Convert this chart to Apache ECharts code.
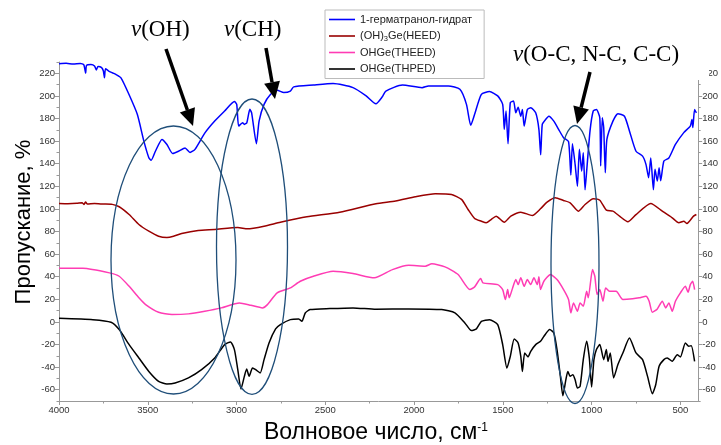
<!DOCTYPE html>
<html>
<head>
<meta charset="utf-8">
<script src="https://cdn.jsdelivr.net/npm/echarts@6/dist/echarts.min.js"></script>
<style>
  html, body { margin: 0; padding: 0; background: #fff; }
  #chart { width: 721px; height: 445px; }
</style>
</head>
<body>
<div id="chart"></div>
<script>
  // tick labels
  const xTicks = [4000, 3500, 3000, 2500, 2000, 1500, 1000, 500];
  const xMinorTicks = [3750, 3250, 2750, 2250, 1750, 1250, 750];
  const yTicks = [-60, -40, -20, 0, 20, 40, 60, 80, 100, 120, 140, 160, 180, 200, 220];
  const yMinorTicks = [-70, -50, -30, -10, 10, 30, 50, 70, 90, 110, 130, 150, 170, 190, 210, 230];

  const seriesNames = ['1-герматранол-гидрат', '(OH)3Ge(HEED)', 'OHGe(THEED)', 'OHGe(THPED)'];

  // [wavenumber, transmittance]
  const germatranolHydrate = [
    [4000,228.5],[3960,228.8],[3920,228.3],[3880,228.6],[3860,227.5],[3850,220],[3845,227],[3820,227.8],
    [3800,226.5],[3790,223],[3780,226],[3760,225],[3750,222],[3744,216],[3738,224],[3720,222],[3700,220.5],
    [3680,219],[3651,216],[3605,201],[3559,183.7],[3522,160],[3494,145.3],[3481,143],[3457,151],[3420,161.5],
    [3392,157],[3360,149],[3327,151],[3290,154],[3262,150],[3234,152.7],[3179,167],[3123,177.7],[3067,186.6],
    [3012,195],[2999,192.5],[2988,173.3],[2966,176.3],[2956,174.8],[2942,176.3],[2925,188.1],[2915,185],
    [2888,157.7],[2873,177.7],[2845,192.5],[2808,201.4],[2771,205],[2734,203],[2697,204.3],[2678,208],
    [2567,209.6],[2456,210.9],[2344,207.3],[2270,200],[2215,193],[2180,199],[2159,204.3],[2066,209.6],
    [1955,207.3],[1919,208.8],[1807,208.8],[1742,205.8],[1705,192.5],[1681,174],[1659,183.7],[1621,201.4],
    [1575,203.8],[1529,200],[1501,192.5],[1492,170.4],[1482,186.6],[1471,157.7],[1458,194],[1440,195.5],
    [1427,185],[1414,190],[1399,182],[1390,188],[1380,173.3],[1362,188],[1343,189.6],[1315,185],[1297,170.4],
    [1287,148],[1278,174.8],[1260,179],[1241,182],[1213,177.7],[1186,170.4],[1158,163],[1130,159.5],[1117,130],
    [1108,157.7],[1093,139.4],[1080,120],[1069,152.7],[1056,133.4],[1047,149.7],[1037,117],[1028,133.4],
    [1009,169],[991,186.6],[973,188],[954,180.7],[949,138],[940,180.7],[932,172],[923,132],[914,161.5],
    [880,177.7],[852,184.3],[815,182],[787,169],[750,151],[713,146.7],[694,139.4],[679,127.6],[667,145],
    [652,117],[643,135],[630,124.6],[620,136.5],[611,125],[593,142.3],[565,145],[528,157],[481,167.5],
    [444,173.3],[435,179.2],[430,172],[420,188],[410,185]
  ];
  const heed = [
    [4000,104.8],[3950,104.6],[3900,104.9],[3870,105.5],[3860,104],[3850,106],[3840,104.3],[3800,104.7],
    [3750,104.3],[3700,104],[3661,101.9],[3605,95],[3550,86.2],[3494,80.3],[3439,75.8],[3392,74.7],[3355,75.8],
    [3309,78.2],[3216,80.9],[3123,81.8],[2993,83.5],[2938,82.4],[2845,84.7],[2753,88.2],[2604,93],[2419,97.1],
    [2215,104.5],[2104,106.9],[1993,110.7],[1881,113.4],[1789,112.8],[1733,108.4],[1696,99.5],[1659,91.5],
    [1621,89.1],[1594,87.7],[1566,90.6],[1538,93.6],[1492,88.2],[1455,93.6],[1399,97.1],[1334,94.2],
    [1288,100.1],[1251,106],[1205,109.9],[1158,107.5],[1121,105.4],[1075,98],[1037,103.9],[991,109],
    [954,107.7],[917,98.9],[880,98],[843,93.6],[796,88.6],[750,95],[667,104.8],[602,98],[546,92.1],
    [509,87.7],[481,89.1],[463,87.1],[426,93.6],[410,95]
  ];
  const theed = [
    [4000,47.5],[3865,47.5],[3716,43.4],[3661,40.4],[3605,31.5],[3550,21.3],[3512,15.3],[3439,8.5],[3364,6.5],
    [3271,7.1],[3179,9.4],[3086,12.4],[2984,16.8],[2919,14.7],[2854,12.4],[2826,15.3],[2771,25.7],[2697,30.1],
    [2641,36],[2567,40.4],[2456,44.8],[2344,42.8],[2224,39],[2122,46.3],[2030,50.1],[1937,49.3],[1900,51.4],
    [1826,48.7],[1752,41.9],[1686,28.6],[1659,31],[1625,38.4],[1612,34.5],[1529,33],[1501,28.6],[1486,19.8],
    [1473,28.6],[1464,21.3],[1445,30.1],[1427,37.5],[1414,33],[1399,39],[1380,31.5],[1362,37.5],[1343,33],
    [1325,39],[1306,33],[1297,39.9],[1288,28.6],[1269,36],[1232,41.9],[1195,37.5],[1158,28.6],[1130,19.8],
    [1117,8],[1102,16.8],[1080,9.4],[1065,16.8],[1047,13.8],[1028,27.1],[1019,21.3],[995,46.3],[982,40.4],
    [969,24.2],[954,28.6],[936,18.3],[921,30.1],[899,27.1],[862,27.1],[824,19.8],[769,20.4],[732,21.3],
    [694,22.7],[676,18.3],[658,8.5],[630,11.5],[602,18.3],[583,12.4],[565,16.8],[546,9.4],[528,18.3],
    [500,25.7],[472,31.5],[457,26.2],[444,33],[431,36],[420,28.6]
  ];
  const thped = [
    [4000,3.2],[3809,2],[3707,-0.3],[3661,-6.8],[3605,-20.1],[3550,-31.9],[3494,-43.8],[3439,-52.6],
    [3392,-54.9],[3346,-54.1],[3271,-49.6],[3197,-42.3],[3123,-31.9],[3067,-20.1],[3034,-17.7],[3012,-24.5],
    [2993,-42.3],[2975,-59.4],[2956,-48.2],[2943,-41.7],[2929,-48.2],[2910,-40.8],[2892,-42.3],[2867,-45.2],
    [2845,-33.4],[2817,-18.6],[2780,-6.2],[2753,-2.4],[2697,2],[2650,2.6],[2632,0.5],[2613,7.9],[2586,10.9],
    [2474,11.8],[2344,12.4],[2215,11.2],[2030,11.5],[1844,10.9],[1770,8],[1714,-0.9],[1677,-7.7],[1649,-6.2],
    [1621,0.5],[1575,2],[1529,-2.4],[1501,-20.1],[1477,-40.8],[1458,-30.5],[1436,-15.1],[1414,-18.6],
    [1399,-30.5],[1390,-43.8],[1377,-27.5],[1358,-31],[1343,-26],[1315,-20.1],[1288,-17.2],[1269,-12.8],
    [1236,-6.8],[1213,-9.8],[1195,-24.5],[1176,-48.2],[1162,-65.3],[1145,-51.1],[1134,-43.8],[1121,-48.2],
    [1106,-46.7],[1093,-51.1],[1080,-58.5],[1065,-57],[1047,-33.4],[1028,-17.2],[1013,-31.9],[1000,-57.6],
    [987,-33.4],[973,-24.5],[954,-20.1],[932,-33.4],[917,-24.5],[908,-34.9],[895,-27.5],[876,-49.6],
    [852,-37.8],[824,-27.5],[787,-14.2],[750,-27.5],[713,-33.4],[685,-48.2],[658,-63.5],[639,-55.6],
    [620,-39.3],[593,-33.4],[574,-31.9],[546,-34.9],[518,-29],[500,-31],[472,-18.6],[453,-21.6],[439,-21],
    [420,-34.9]
  ];

  const colors = ['#0000ff', '#990000', '#ff3cb4', '#000000'];
  const sans = 'Liberation Sans, Arial, sans-serif';
  const serif = 'Liberation Serif, Times New Roman, serif';
  const ellipseColor = '#1f4e79';

  let chart = echarts.init(document.getElementById('chart'));

  function arrow(x1, y1, x2, y2) {
    // shaft + filled head, tip at (x2, y2)
    const dx = x2 - x1, dy = y2 - y1;
    const len = Math.sqrt(dx * dx + dy * dy);
    const ux = dx / len, uy = dy / len;
    const hl = 17, hw = 8;
    const bx = x2 - ux * hl, by = y2 - uy * hl;
    return [
      { type: 'line', z: 120, shape: { x1: x1, y1: y1, x2: bx, y2: by },
        style: { stroke: '#000', lineWidth: 3.5 } },
      { type: 'polygon', z: 120,
        shape: { points: [[x2, y2], [bx - uy * hw, by + ux * hw], [bx + uy * hw, by - ux * hw]] },
        style: { fill: '#000' } }
    ];
  }

  function ellipse(cx, cy, rx, ry) {
    return { type: 'ellipse', z: 110, shape: { cx: cx, cy: cy, rx: rx, ry: ry },
      style: { fill: null, stroke: ellipseColor, lineWidth: 1.3 } };
  }

  function note(x, y, txt) {
    return { type: 'text', z: 130, x: x, y: y,
      style: { text: txt, font: '23px ' + serif, fill: '#000', textVerticalAlign: 'middle',
        rich: { i: { fontStyle: 'italic', fontSize: 23, fontFamily: serif } } } };
  }

  function line(name, data, color) {
    return { name: name, type: 'line', data: data, showSymbol: false, smooth: 0.2,
      lineStyle: { color: color, width: 1.5 }, itemStyle: { color: color } };
  }

  const tickLabel = { fontFamily: sans, fontSize: 9.5, color: '#333', margin: 4,
    formatter: function (v) { return String(v); } };

  let option = {
    animation: false,
    backgroundColor: '#fff',
    grid: { left: 59, right: 18, top: 62, bottom: 44 },
    legend: {
      orient: 'vertical', left: 325, top: 10,
      backgroundColor: '#fff', borderColor: '#bbb', borderWidth: 1,
      padding: [3, 12, 3, 4], itemGap: 3.5,
      icon: 'rect', itemWidth: 26, itemHeight: 1.6,
      data: seriesNames,
      formatter: function (n) { return n.replace('(OH)3', '(OH){s|3}'); },
      textStyle: { fontFamily: sans, fontSize: 11, color: '#222', lineHeight: 13,
        rich: { s: { fontFamily: sans, fontSize: 7.5, verticalAlign: 'bottom', lineHeight: 9, padding: [5, 0, 0, 0] } } }
    },
    xAxis: [
      {
        type: 'value', min: 400, max: 4000, inverse: true,
        axisLine: { show: true, onZero: false, lineStyle: { color: '#999' } },
        axisTick: { show: true, length: 4, customValues: xTicks, lineStyle: { color: '#999' } },
        axisLabel: Object.assign({ customValues: xTicks }, tickLabel),
        splitLine: { show: false }
      },
      {
        type: 'value', min: 400, max: 4000, inverse: true, position: 'bottom',
        axisLine: { show: false, onZero: false },
        axisTick: { show: true, length: 2.5, customValues: xMinorTicks, lineStyle: { color: '#999' } },
        axisLabel: { show: false },
        splitLine: { show: false }
      }
    ],
    yAxis: [
      {
        type: 'value', min: -70, max: 230, position: 'left',
        axisLine: { show: true, onZero: false, lineStyle: { color: '#999' } },
        axisTick: { show: true, length: 4, customValues: yTicks, lineStyle: { color: '#999' } },
        axisLabel: Object.assign({ customValues: yTicks }, tickLabel),
        splitLine: { show: false }
      },
      {
        type: 'value', min: -70, max: 230, position: 'right',
        axisLine: { show: true, onZero: false, lineStyle: { color: '#999' } },
        axisTick: { show: true, length: 4, customValues: yTicks, lineStyle: { color: '#999' } },
        axisLabel: Object.assign({ customValues: yTicks }, tickLabel),
        splitLine: { show: false }
      },
      {
        type: 'value', min: -70, max: 230, position: 'left',
        axisLine: { show: false, onZero: false },
        axisTick: { show: true, length: 2.5, customValues: yMinorTicks, lineStyle: { color: '#999' } },
        axisLabel: { show: false }, splitLine: { show: false }
      },
      {
        type: 'value', min: -70, max: 230, position: 'right',
        axisLine: { show: false, onZero: false },
        axisTick: { show: true, length: 2.5, customValues: yMinorTicks, lineStyle: { color: '#999' } },
        axisLabel: { show: false }, splitLine: { show: false }
      }
    ],
    series: [
      line(seriesNames[0], germatranolHydrate, colors[0]),
      line(seriesNames[1], heed, colors[1]),
      line(seriesNames[2], theed, colors[2]),
      line(seriesNames[3], thped, colors[3])
    ],
    graphic: [
      // axis titles
      { type: 'text', x: 24, y: 222, rotation: Math.PI / 2, z: 100,
        style: { text: 'Пропускание, %', font: '22px ' + sans, fill: '#000',
          textAlign: 'center', textVerticalAlign: 'middle' } },
      { type: 'text', x: 376, y: 433, z: 100,
        style: { text: '{t|Волновое число, см}{sup|-1}', textAlign: 'center', textVerticalAlign: 'middle',
          rich: { t: { fontFamily: sans, fontSize: 23, fill: '#000', verticalAlign: 'bottom' },
                  sup: { fontFamily: sans, fontSize: 12, fill: '#000', verticalAlign: 'top', padding: [0, 0, 10, 0] } } } },
      // white box behind the right-hand note
      { type: 'rect', z: 105, shape: { x: 600, y: 40, width: 109, height: 40 }, style: { fill: '#fff' } },
      note(131, 30, '{i|ν}(OH)'),
      note(224, 30, '{i|ν}(CH)'),
      note(513, 55, '{i|ν}(O-C, N-C, C-C)'),
      ellipse(173.5, 260, 62.5, 134),
      ellipse(252, 246.7, 35.5, 147.7),
      ellipse(575, 264.5, 24, 139)
    ].concat(arrow(166, 49, 193, 126), arrow(266, 48, 275, 99), arrow(590, 72, 577, 124))
  };

  chart.setOption(option);
</script>
</body>
</html>
